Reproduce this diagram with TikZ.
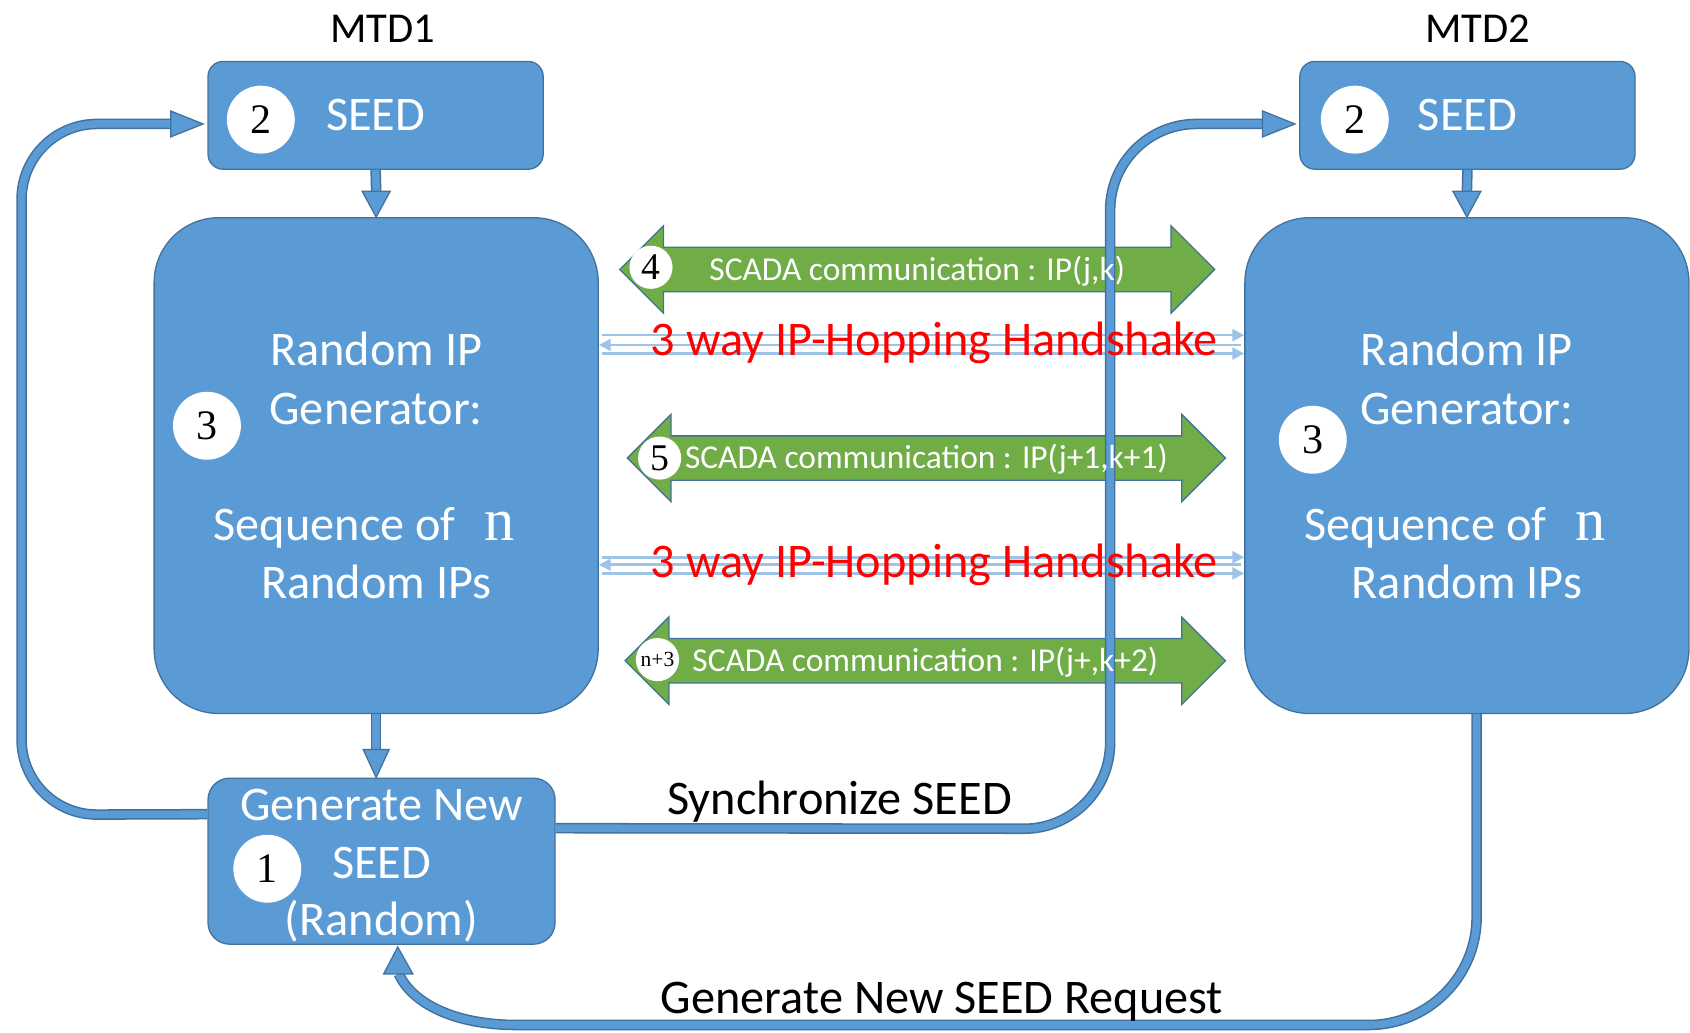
\documentclass[tikz,border=0pt]{standalone}
\usepackage{fontspec}
\setmainfont{Carlito}
\newfontfamily\numfont{Liberation Serif}
\usetikzlibrary{shapes.arrows,calc,arrows.meta}
\definecolor{boxblue}{HTML}{5B9BD5}
\definecolor{edgeblue}{HTML}{41719C}
\definecolor{commgreen}{HTML}{70AD47}
\definecolor{shakeblue}{HTML}{9DC3E6}
\definecolor{shakered}{HTML}{FF0000}
\newcommand\fsize[2]{\fontsize{#1}{#2}\selectfont}

\begin{document}
\begin{tikzpicture}[x=1pt,y=-1pt,
  every node/.style={inner sep=0pt},
  box/.style={draw=edgeblue, line width=1.2pt, fill=boxblue, text=white, align=center},
  seedbox/.style={box, rounded corners=14pt, minimum width=311pt, minimum height=100pt, font=\fsize{44.8}{50}},
  genbox/.style={box, rounded corners=60pt, minimum width=412pt, minimum height=460pt, font=\fsize{44.8}{54}},
  newbox/.style={box, rounded corners=20pt, minimum width=322pt, minimum height=154pt, font=\fsize{44.8}{53.5}},
  disc/.style={circle, fill=white, minimum size=63pt, font=\numfont\fsize{39}{39}},
  smalldisc/.style={circle, fill=white, minimum size=40pt, font=\numfont\fsize{35}{35}},
  comm/.style={double arrow, double arrow head extend=20pt, double arrow tip angle=90,
    draw=edgeblue, line width=1.2pt, fill=commgreen, minimum width=80pt,
    text height=30pt, text depth=10pt},
  commtext/.style={text=white, text height=30pt, text depth=10pt, font=\fsize{31}{31}},
  title/.style={font=\fsize{39.5}{39.5}, anchor=base},
  caption/.style={font=\fsize{44.8}{44.8}, anchor=base},
  shake/.style={font=\fsize{44.8}{44.8}, text=shakered, anchor=base},
  pipe/.style={draw=edgeblue, line width=1.4pt, double=boxblue, double distance=7pt},
  headtri/.style={draw=edgeblue, line width=1.2pt, fill=boxblue, line join=miter},
  hsline/.style={line width=2.4pt, draw=shakeblue, -{Triangle[length=11pt,width=11pt]}},
]
\useasboundingbox (0,0) rectangle (1568,958);

% device titles
\node[title] (mtdA) at (355,39) {MTD1};
\node[title] (mtdB) at (1371,39) {MTD2};

% seed boxes
\node[seedbox] (seedA) at (348.5,107) {SEED};
\node[seedbox] (seedB) at (1361.5,107) {SEED};

% random IP generators
\node[genbox] (genA) at (349,432)
  {Random IP\\Generator:\\[54pt]Sequence of\hspace{0.6em}{\numfont\fsize{56}{54}n}\rule{22pt}{0pt}\\Random IPs};
\node[genbox] (genB) at (1361,432)
  {Random IP\\Generator:\\[54pt]Sequence of\hspace{0.6em}{\numfont\fsize{56}{54}n}\rule{22pt}{0pt}\\Random IPs};

% new seed generation
\node[newbox] (newseed) at (354,799) {\rule{0pt}{38pt}Generate New\\SEED\\(Random)};

% step numbers
\node[disc] (dA2) at (242,111) {2};
\node[disc] (dB2) at (1257,111) {2};
\node[disc] (dA3) at (192,395) {3};
\node[disc] (dB3) at (1218,408) {3};
\node[disc] (d1) at (248,806) {1};

% SCADA communication arrows (labels are set after the seed link crossing them)
\node[comm, minimum height=552pt] (commA) at (851,250) {};
\node[comm, minimum height=555pt] (commB) at (859.5,425) {};
\node[comm, minimum height=557pt] (commC) at (858.5,613) {};

% handshake lines
\foreach \ya/\yb/\yc [count=\i] in {311/320/328, 517/524/532}{
  \coordinate (ha\i) at (0,\ya);
  \coordinate (hb\i) at (0,\yb);
  \coordinate (hc\i) at (0,\yc);
  \draw[hsline] ($(genA.east |- ha\i)+(3,0)$) -- (genB.west |- ha\i);
  \draw[hsline] ($(genB.west |- hb\i)+(-3,0)$) -- (genA.east |- hb\i);
  \draw[hsline] ($(genA.east |- hc\i)+(3,0)$) -- (genB.west |- hc\i);
}

% seed -> generator
\draw[pipe] (seedA.south) -- ($(genA.north)+(0,-24)$);
\draw[headtri] (genA.north) -- ++(-13,-24) -- ++(26,0) -- cycle;
\draw[pipe] (seedB.south) -- ($(genB.north)+(0,-24)$);
\draw[headtri] (genB.north) -- ++(-13,-24) -- ++(26,0) -- cycle;

% generator -> new seed
\coordinate (tipD) at (genA.south |- newseed.north);
\draw[pipe] (genA.south) -- ($(tipD)+(0,-26)$);
\draw[headtri] (tipD) -- ++(-12,-26) -- ++(24,0) -- cycle;

% new seed back to own seed
\coordinate (tipA) at ($(seedA.west)+(-4,8)$);
\draw[pipe, rounded corners=70pt] ($(newseed.north west)+(0,34)$) -- (20,756) -- (20,115) -- ($(tipA)+(-30,0)$);
\draw[headtri] (tipA) -- ++(-30,-12) -- ++(0,24) -- cycle;

% synchronize seed to the peer
\coordinate (tipB) at ($(seedB.west)+(-4,8)$);
\draw[pipe, rounded corners=80pt] ($(newseed.north east)+(0,47)$) -- (1030,769) -- (1030,115) -- ($(tipB)+(-30,0)$);
\draw[headtri] (tipB) -- ++(-30,-12) -- ++(0,24) -- cycle;

% new seed request from the peer
\coordinate (tipC) at ($(newseed.south)+(15,2)$);
\draw[pipe] ($(genB.south)+(9,0)$) -- (1370,851)
  .. controls (1370,906) and (1325,951) .. (1270,951) -- (480,951)
  .. controls (420,951) and (382,930) .. ($(tipC)+(1,25)$);
\draw[headtri] (tipC) -- ++(-13,25) -- ++(27,0) -- cycle;

% labels of the SCADA arrows
\node[commtext] (commAtext) at (commA.center) {SCADA communication : IP(j,k)};
\node[commtext] (commBtext) at (commB.center) {SCADA communication : IP(j+1,k+1)};
\node[commtext] (commCtext) at (commC.center) {SCADA communication : IP(j+,k+2)};
\node[smalldisc] (d4) at (604,248) {4};
\node[smalldisc] (d5) at (612,425) {5};
\node[smalldisc, font=\numfont\fsize{20}{20}] (dn3) at (610,612) {n+3};

% handshake labels
\node[shake] (hsA) at (867,330) {3 way IP-Hopping Handshake};
\node[shake] (hsB) at (867,536) {3 way IP-Hopping Handshake};

% captions
\node[caption] (sync) at (779,756) {Synchronize SEED};
\node[caption] (req) at (874,940) {Generate New SEED Request};
\end{tikzpicture}
\end{document}
